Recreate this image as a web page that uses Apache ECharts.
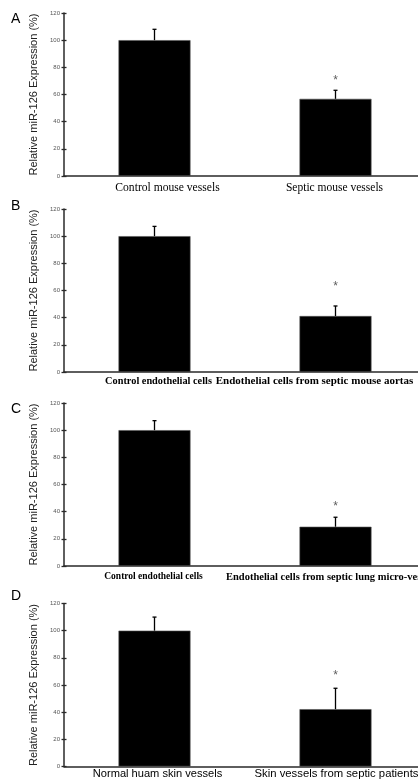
<!DOCTYPE html>
<html>
<head>
<meta charset="utf-8">
<script src="https://cdn.jsdelivr.net/npm/echarts@6/dist/echarts.min.js"></script>
<style>html,body{margin:0;padding:0;background:#fff;}#c{width:418px;height:781px;}</style>
</head>
<body>
<div id="c"></div>
<script>
// ---- data ----
const panelLetters = ['A', 'B', 'C', 'D'];
const yTitle = 'Relative miR-126 Expression (%)';
const yMin = 0, yMax = 120, yStep = 20;

const categoriesA = ['Control mouse vessels', 'Septic mouse vessels'];
const valuesA = [100, 56.8];
const errorsA = [8, 6.3];
const starA = [null, 72];

const categoriesB = ['Control endothelial cells', 'Endothelial cells from septic mouse aortas'];
const valuesB = [100, 41.2];
const errorsB = [7.2, 7.4];
const starB = [null, 64];

const categoriesC = ['Control endothelial cells', 'Endothelial cells from septic lung micro-vessels'];
const valuesC = [100, 28.9];
const errorsC = [7, 7];
const starC = [null, 45];

const categoriesD = ['Normal huam skin vessels', 'Skin vessels from septic patients'];
const valuesD = [100, 42.2];
const errorsD = [10, 15.4];
const starD = [null, 68];

// ---- layout / style ----
const panels = [
  {cats: categoriesA, vals: valuesA, errs: errorsA, star: starA,
   top: 13, height: 163, font: 'Liberation Serif', sizes: [11.6, 11.5], weight: 'normal', margin: 6,
   shifts: [13, -1], letterTop: 12},
  {cats: categoriesB, vals: valuesB, errs: errorsB, star: starB,
   top: 209, height: 163, font: 'Liberation Serif', sizes: [10.3, 11], weight: 'bold', margin: 3,
   shifts: [4, -21], letterTop: 199},
  {cats: categoriesC, vals: valuesC, errs: errorsC, star: starC,
   top: 403, height: 163, font: 'Liberation Serif', sizes: [9.5, 10.5], weight: 'bold', margin: 5,
   shifts: [-1, -4], letterTop: 402},
  {cats: categoriesD, vals: valuesD, errs: errorsD, star: starD,
   top: 603.5, height: 163, font: 'Liberation Sans', sizes: [11.1, 11.3], weight: 'normal', margin: 1,
   shifts: [3, 1], letterTop: 589}
];

const grid = [], xAxis = [], yAxis = [], series = [], title = [];
panels.forEach((p, k) => {
  grid.push({left: 64, top: p.top, width: 362, height: p.height, outerBoundsMode: 'none', containLabel: false});
  const rich = {};
  p.shifts.forEach((s, i) => {
    rich['l' + i] = {
      fontFamily: p.font, fontSize: p.sizes[i], fontWeight: p.weight, color: '#000',
      lineHeight: 12, verticalAlign: 'middle',
      padding: s >= 0 ? [0, 0, 0, 2 * s] : [0, -2 * s, 0, 0]
    };
  });
  xAxis.push({
    type: 'category', gridIndex: k, data: p.cats,
    axisLine: {show: true, lineStyle: {color: '#2a2a2a', width: 1.5}},
    axisTick: {show: false},
    axisLabel: {interval: 0, margin: p.margin, hideOverlap: false,
      formatter: (v, i) => '{l' + i + '|' + v + '}', rich: rich}
  });
  yAxis.push({
    type: 'value', gridIndex: k, min: yMin, max: yMax, interval: yStep,
    name: yTitle, nameLocation: 'middle', nameGap: 16,
    nameTextStyle: {fontFamily: 'Liberation Sans', fontSize: 11, color: '#222'},
    axisLine: {show: true, lineStyle: {color: '#2a2a2a', width: 1.5}},
    axisTick: {show: true, length: 2.5, lineStyle: {color: '#2a2a2a', width: 1.3}},
    axisLabel: {fontFamily: 'Liberation Sans', fontSize: 6, color: '#555', margin: 4},
    splitLine: {show: false}
  });
  yAxis.push({
    type: 'value', gridIndex: k, min: yMin, max: yMax, interval: yStep, position: 'left',
    axisLine: {show: false},
    axisTick: {show: true, inside: true, length: 2.5, lineStyle: {color: '#2a2a2a', width: 1.3}},
    axisLabel: {show: false}, splitLine: {show: false}
  });
  series.push({
    type: 'bar', xAxisIndex: k, yAxisIndex: 2 * k, data: p.vals, barWidth: 72,
    itemStyle: {color: '#000', borderColor: '#555', borderWidth: 0.6}, silent: true
  });
  series.push({
    type: 'custom', xAxisIndex: k, yAxisIndex: 2 * k,
    data: p.vals.map((v, i) => [i, v, v + p.errs[i]]),
    renderItem: (params, api) => {
      const a = api.coord([api.value(0), api.value(1)]);
      const b = api.coord([api.value(0), api.value(2)]);
      return {type: 'group', children: [
        {type: 'line', shape: {x1: a[0], y1: a[1], x2: b[0], y2: b[1]}, style: {stroke: '#000', lineWidth: 1.3}},
        {type: 'line', shape: {x1: b[0] - 2, y1: b[1], x2: b[0] + 2, y2: b[1]}, style: {stroke: '#000', lineWidth: 1.3}}
      ]};
    },
    z: 5, silent: true
  });
  series.push({
    type: 'scatter', xAxisIndex: k, yAxisIndex: 2 * k,
    data: p.star.map((v, i) => v == null ? null : [i, v]).filter(d => d),
    symbolSize: 0,
    label: {show: true, position: 'inside', formatter: '*', fontFamily: 'Liberation Sans', fontSize: 12, color: '#333',
      offset: [0, 2]},
    silent: true
  });
  title.push({text: panelLetters[k], left: 11, top: p.letterTop,
    textStyle: {fontFamily: 'Liberation Sans', fontSize: 14, fontWeight: 'normal', color: '#000'}, padding: 0});
});

const chart = echarts.init(document.getElementById('c'), null, {renderer: 'canvas'});
chart.setOption({animation: false, backgroundColor: '#fff', title, grid, xAxis, yAxis, series});
</script>
</body>
</html>
